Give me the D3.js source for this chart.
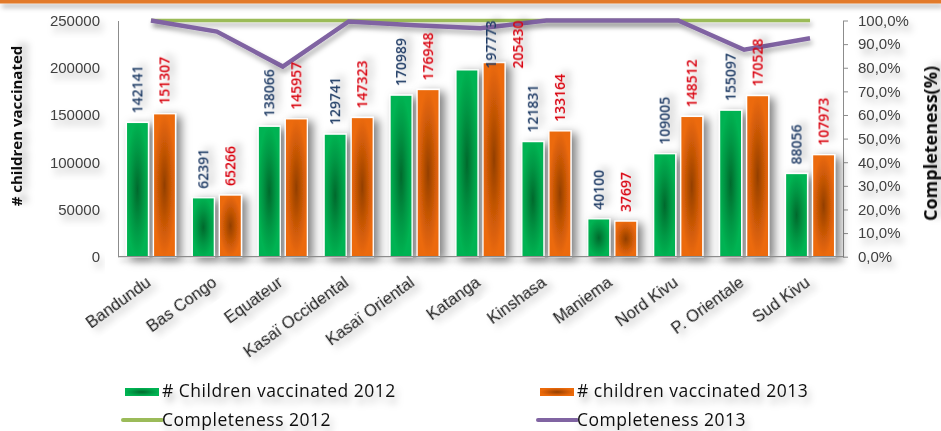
<!DOCTYPE html>
<html>
<head>
<meta charset="utf-8">
<script src="https://cdn.jsdelivr.net/npm/d3@7"></script>
<style>
  html, body { margin: 0; padding: 0; background: #fff; }
  svg { display: block; font-family: "Open Sans", "DejaVu Sans", sans-serif; }
</style>
</head>
<body>
<svg id="chart" width="941" height="431"></svg>
<script>
// Provinces of the DRC
const categories = ["Bandundu", "Bas Congo", "Equateur", "Kasaï Occidental", "Kasaï Oriental",
  "Katanga", "Kinshasa", "Maniema", "Nord Kivu", "P. Orientale", "Sud Kivu"];

// Number of children vaccinated
const vaccinated2012 = [142141, 62391, 138066, 129741, 170989, 197773, 121831, 40100, 109005, 155097, 88056];
const vaccinated2013 = [151307, 65266, 145957, 147323, 176948, 205430, 133164, 37697, 148512, 170528, 107973];

// Reporting completeness (share)
const completeness2012 = [1, 1, 1, 1, 1, 1, 1, 1, 1, 1, 1];
const completeness2013 = [1, 0.953, 0.805, 0.996, 0.98, 0.967, 1, 1, 1, 0.876, 0.925];

// Axis ticks
const countTicks = [0, 50000, 100000, 150000, 200000, 250000];
const pctTicks = [0, 0.1, 0.2, 0.3, 0.4, 0.5, 0.6, 0.7, 0.8, 0.9, 1];

const legendItems = [
  { label: "# Children vaccinated 2012", kind: "bar", key: "g12" },
  { label: "# children vaccinated 2013", kind: "bar", key: "o13" },
  { label: "Completeness 2012", kind: "line", key: "l12" },
  { label: "Completeness 2013", kind: "line", key: "l13" }
];

const colors = {
  line12: "#9BBB59",
  line13: "#8064A2",
  label12: "#1F3A64",
  label13: "#D8000F",
  axis: "#8C8C8C",
  text: "#404040",
  band: "#E27A2C"
};

const W = 941, H = 431;
const plot = { left: 118, right: 843, top: 20.5, bottom: 256.7 };

const svg = d3.select("#chart");
const defs = svg.append("defs");

function shadow(id, dx, dy, sd, op, userSpace) {
  const f = defs.append("filter").attr("id", id);
  if (userSpace) {
    f.attr("filterUnits", "userSpaceOnUse").attr("x", 0).attr("y", 0).attr("width", W).attr("height", H);
  } else {
    f.attr("x", "-50%").attr("y", "-50%").attr("width", "200%").attr("height", "200%");
  }
  f.append("feDropShadow").attr("dx", dx).attr("dy", dy)
    .attr("stdDeviation", sd).attr("flood-color", "#000").attr("flood-opacity", op);
}
shadow("barShadow", 5, 3, 5, 0.5, true);
shadow("textShadow", 3, 6, 3.5, 0.28, false);
shadow("lineShadow", 2, 4, 2.5, 0.3, true);

function pathGradient(id, inner, mid, outer) {
  const g = defs.append("radialGradient").attr("id", id)
    .attr("cx", "50%").attr("cy", "50%").attr("r", "50%");
  g.append("stop").attr("offset", "0%").attr("stop-color", inner);
  g.append("stop").attr("offset", "55%").attr("stop-color", mid);
  g.append("stop").attr("offset", "100%").attr("stop-color", outer);
}
pathGradient("g12", "#00692C", "#009543", "#00B352");
pathGradient("o13", "#933F00", "#C85706", "#EC6A0A");

// top accent band
svg.append("rect").attr("x", 0).attr("y", 0).attr("width", W).attr("height", 3.5)
  .attr("fill", colors.band).attr("filter", "url(#lineShadow)");

// scales
const x = d3.scaleBand().domain(categories).range([plot.left, plot.right]).padding(0);
const x1 = d3.scaleBand().domain(["2012", "2013"]).range([0, x.bandwidth()])
  .paddingInner(0.185).paddingOuter(0.31);
const y = d3.scaleLinear().domain([0, 250000]).range([plot.bottom, plot.top]);
const yR = d3.scaleLinear().domain([0, 1]).range([plot.bottom, plot.top]);

const locale = d3.formatLocale({ decimal: ",", thousands: ".", grouping: [3], currency: ["", " €"] });
const pctFmt = locale.format(".1%");

// left axis
const axL = svg.append("g").attr("transform", `translate(${plot.left},0)`)
  .call(d3.axisLeft(y).tickValues(countTicks).tickFormat(d3.format("d")).tickSize(0).tickPadding(18));
axL.select(".domain").attr("stroke", colors.axis);
axL.selectAll("text").attr("font-size", 15).attr("fill", colors.text).attr("filter", "url(#textShadow)");

// right axis
const axR = svg.append("g").attr("transform", `translate(${plot.right},0)`)
  .call(d3.axisRight(yR).tickValues(pctTicks).tickFormat(pctFmt).tickSize(5).tickSizeOuter(0).tickPadding(10));
axR.selectAll(".domain, line").attr("stroke", colors.axis);
axR.selectAll("text").attr("font-size", 15).attr("fill", colors.text).attr("filter", "url(#textShadow)");

// bars
const rows = categories.map((c, i) => ({ c, v12: vaccinated2012[i], v13: vaccinated2013[i] }));
const barData = [];
rows.forEach(r => {
  barData.push({ c: r.c, s: "2012", v: r.v12, fill: "url(#g12)", color: colors.label12 });
  barData.push({ c: r.c, s: "2013", v: r.v13, fill: "url(#o13)", color: colors.label13 });
});

svg.append("g").selectAll("rect").data(barData).join("rect")
  .attr("x", d => x(d.c) + x1(d.s))
  .attr("y", d => y(d.v))
  .attr("width", x1.bandwidth())
  .attr("height", d => y(0) - y(d.v))
  .attr("fill", d => d.fill)
  .attr("stroke", "#fff").attr("stroke-width", 1.3)
  .attr("filter", "url(#barShadow)");

// baseline
svg.append("line").attr("x1", plot.left).attr("x2", plot.right)
  .attr("y1", y(0)).attr("y2", y(0)).attr("stroke", colors.axis).attr("stroke-width", 1.2)
  .attr("filter", "url(#lineShadow)");

// category labels
const axB = svg.append("g").attr("transform", `translate(0,${plot.bottom})`)
  .call(d3.axisBottom(x).tickSize(0));
axB.select(".domain").remove();
axB.selectAll("text")
  .attr("x", 0).attr("y", 0).attr("dy", 0)
  .attr("text-anchor", "end")
  .attr("font-size", 16.5).attr("fill", "#1a1a1a")
  .attr("transform", "translate(1,28) rotate(-36)")
  .attr("filter", "url(#textShadow)");

// completeness lines
const linePath = d3.line()
  .x((d, i) => x(categories[i]) + x.bandwidth() / 2)
  .y(d => yR(d));
svg.append("path").datum(completeness2012).attr("d", linePath)
  .attr("fill", "none").attr("stroke", colors.line12).attr("stroke-width", 3.5)
  .attr("filter", "url(#lineShadow)");
svg.append("path").datum(completeness2013).attr("d", linePath)
  .attr("fill", "none").attr("stroke", colors.line13).attr("stroke-width", 4.5)
  .attr("stroke-linejoin", "miter")
  .attr("filter", "url(#lineShadow)");

// value labels above bars
const gap = 9;
const lbl = svg.append("g").selectAll("text").data(barData).join("text")
  .text(d => d.v)
  .attr("font-size", 14)
  .attr("font-weight", 600)
  .attr("fill", d => d.color)
  .attr("dy", "0.36em")
  .attr("text-anchor", "start")
  .attr("filter", "url(#textShadow)");
lbl.each(function (d) {
  const len = this.getComputedTextLength();
  const top = y(d.v);
  let cx = x(d.c) + x1(d.s) + x1.bandwidth() / 2;
  let end = top - gap;
  if (end - len < plot.top) {
    end = plot.top + len;
    if (end > top - 2) cx = x(d.c) + x1(d.s) + x1.bandwidth() + 13;
  }
  d3.select(this).attr("transform", `translate(${cx},${end}) rotate(-90)`);
});

// axis titles
svg.append("text").text("# children vaccinated")
  .attr("transform", "translate(17,126) rotate(-90)")
  .attr("text-anchor", "middle").attr("dy", "0.35em")
  .attr("font-size", 15).attr("font-weight", "bold").attr("fill", "#111")
  .attr("filter", "url(#textShadow)");
svg.append("text").text("Completeness(%)")
  .attr("transform", "translate(931,143.5) rotate(-90)")
  .attr("text-anchor", "middle").attr("dy", "0.35em")
  .attr("font-size", 18).attr("font-weight", "bold").attr("fill", "#111")
  .attr("filter", "url(#textShadow)");

// legend
const legendPos = [
  { sx: 125, ty: 397 }, { sx: 540, ty: 397 },
  { sx: 123, ty: 426 }, { sx: 538, ty: 426 }
];
const leg = svg.append("g");
legendItems.forEach((it, i) => {
  const p = legendPos[i];
  const g = leg.append("g");
  if (it.kind === "bar") {
    g.append("rect").attr("x", p.sx).attr("y", p.ty - 9).attr("width", 34).attr("height", 8)
      .attr("fill", `url(#${it.key})`);
  } else {
    g.append("line").attr("x1", p.sx).attr("x2", p.sx + 39).attr("y1", p.ty - 6).attr("y2", p.ty - 6)
      .attr("stroke", it.key === "l12" ? colors.line12 : colors.line13)
      .attr("stroke-width", 4).attr("stroke-linecap", "round");
  }
  g.append("text").text(it.label)
    .attr("x", p.sx + (it.kind === "bar" ? 37 : 39)).attr("y", p.ty)
    .attr("font-size", 17.5).attr("letter-spacing", 0.5).attr("fill", "#111")
    .attr("filter", "url(#textShadow)");
});
</script>
</body>
</html>
